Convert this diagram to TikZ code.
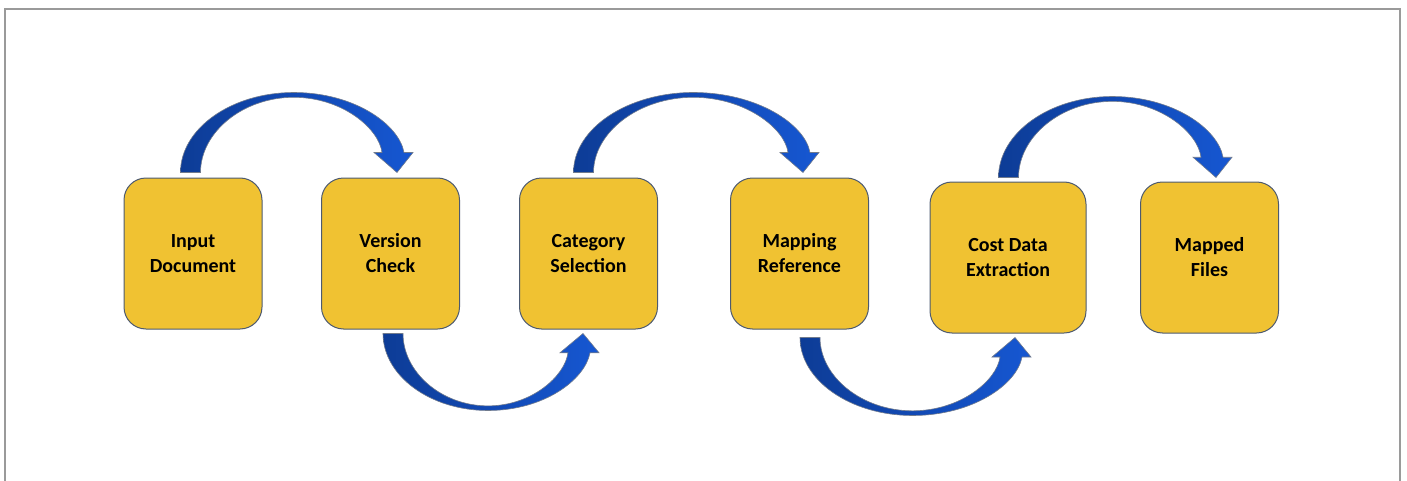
\documentclass[tikz,border=0pt]{standalone}
\usepackage{fontspec}
\setmainfont{Carlito}
\usetikzlibrary{calc}

\definecolor{boxfill}{HTML}{F0C232}
\definecolor{boxline}{HTML}{4D5A70}
\definecolor{arrowdark}{HTML}{0D3C96}
\definecolor{arrowlight}{HTML}{1657D2}
\definecolor{framegray}{HTML}{9A9A9A}

\tikzset{
  stage/.style={draw=boxline, fill=boxfill, line width=0.5pt, rounded corners=11pt,
    minimum width=69pt, minimum height=75.5pt, inner sep=0pt, align=center,
    font=\fontsize{10}{12.5}\selectfont\bfseries},
  arrowbody/.style={left color=arrowdark, right color=arrowlight, draw=boxline!80, line width=0.3pt}
}

% #1 tail, #2 tip, #3 bend in px (+ up, - down)
\newcommand{\bendarrow}[3]{%
  \path[arrowbody] let \p1=(#1), \p2=(#2), \n1={#3*0.5pt}, \n2={\x2-\x1}, \n3={\n2/2} in
    ({\x1-5pt},\y1)
    .. controls ({\x1-5pt},{\y1+0.55*\n1}) and ({\x1+\n3-0.55*(\n3+5pt)},{\y1+\n1}) .. ({\x1+\n3},{\y1+\n1})
    .. controls ({\x1+\n3+0.55*(\n2+3.5pt-\n3)},{\y1+\n1}) and ({\x2+1pt},{\y1+0.6*\n1}) .. ({\x2+3.5pt},{\y1+0.25*\n1})
    -- ({\x2+8pt},{\y1+0.25*\n1}) -- (\x2,\y1) -- ({\x2-11.5pt},{\y1+0.25*\n1}) -- ({\x2-7.5pt},{\y1+0.25*\n1})
    .. controls ({\x2-9pt},{\y1+0.55*\n1}) and ({\x1+\n3+0.55*(\n2-7.5pt-\n3)},{\y1+0.94*\n1}) .. ({\x1+\n3},{\y1+0.94*\n1})
    .. controls ({\x1+\n3-0.55*(\n3-5pt)},{\y1+0.94*\n1}) and ({\x1+5pt},{\y1+0.5*\n1}) .. ({\x1+5pt},\y1)
    -- cycle;}

\begin{document}
\begin{tikzpicture}[x=0.5pt, y=-0.5pt]
  \useasboundingbox (0,0) rectangle (1407,481);
  \draw[framegray, line width=0.75pt] (5,481) -- (5,9) -- (1400,9) -- (1400,481);

  \node[stage] (input) at (193,253.5) {Input\\Document};
  \node[stage] (version) at (390.5,253.5) {Version\\Check};
  \node[stage] (category) at (588.5,253.5) {Category\\Selection};
  \node[stage] (mapref) at (799.5,253.5) {Mapping\\Reference};
  \node[stage, minimum width=78pt] (extract) at (1008,257.5) {Cost Data\\Extraction};
  \node[stage] (mapped) at (1209.5,257.5) {Mapped\\Files};

  \coordinate (t1) at ($(input.north)+(-2.5,-5)$);
  \coordinate (h1) at ($(version.north)+(6.5,-5)$);
  \coordinate (t2) at ($(version.south)+(2.5,4)$);
  \coordinate (h2) at ($(category.south)+(-5.5,4)$);
  \coordinate (t3) at ($(category.north)+(-5,-5)$);
  \coordinate (h3) at ($(mapref.north)+(3.5,-5)$);
  \coordinate (t4) at ($(mapref.south)+(10.5,8)$);
  \coordinate (h4) at ($(extract.south)+(7,5)$);
  \coordinate (t5) at ($(extract.north)+(0.5,-4)$);
  \coordinate (h5) at ($(mapped.north)+(6.5,-4)$);

  \bendarrow{t1}{h1}{80}
  \bendarrow{t2}{h2}{-77}
  \bendarrow{t3}{h3}{80}
  \bendarrow{t4}{h4}{-78}
  \bendarrow{t5}{h5}{81}
\end{tikzpicture}
\end{document}
